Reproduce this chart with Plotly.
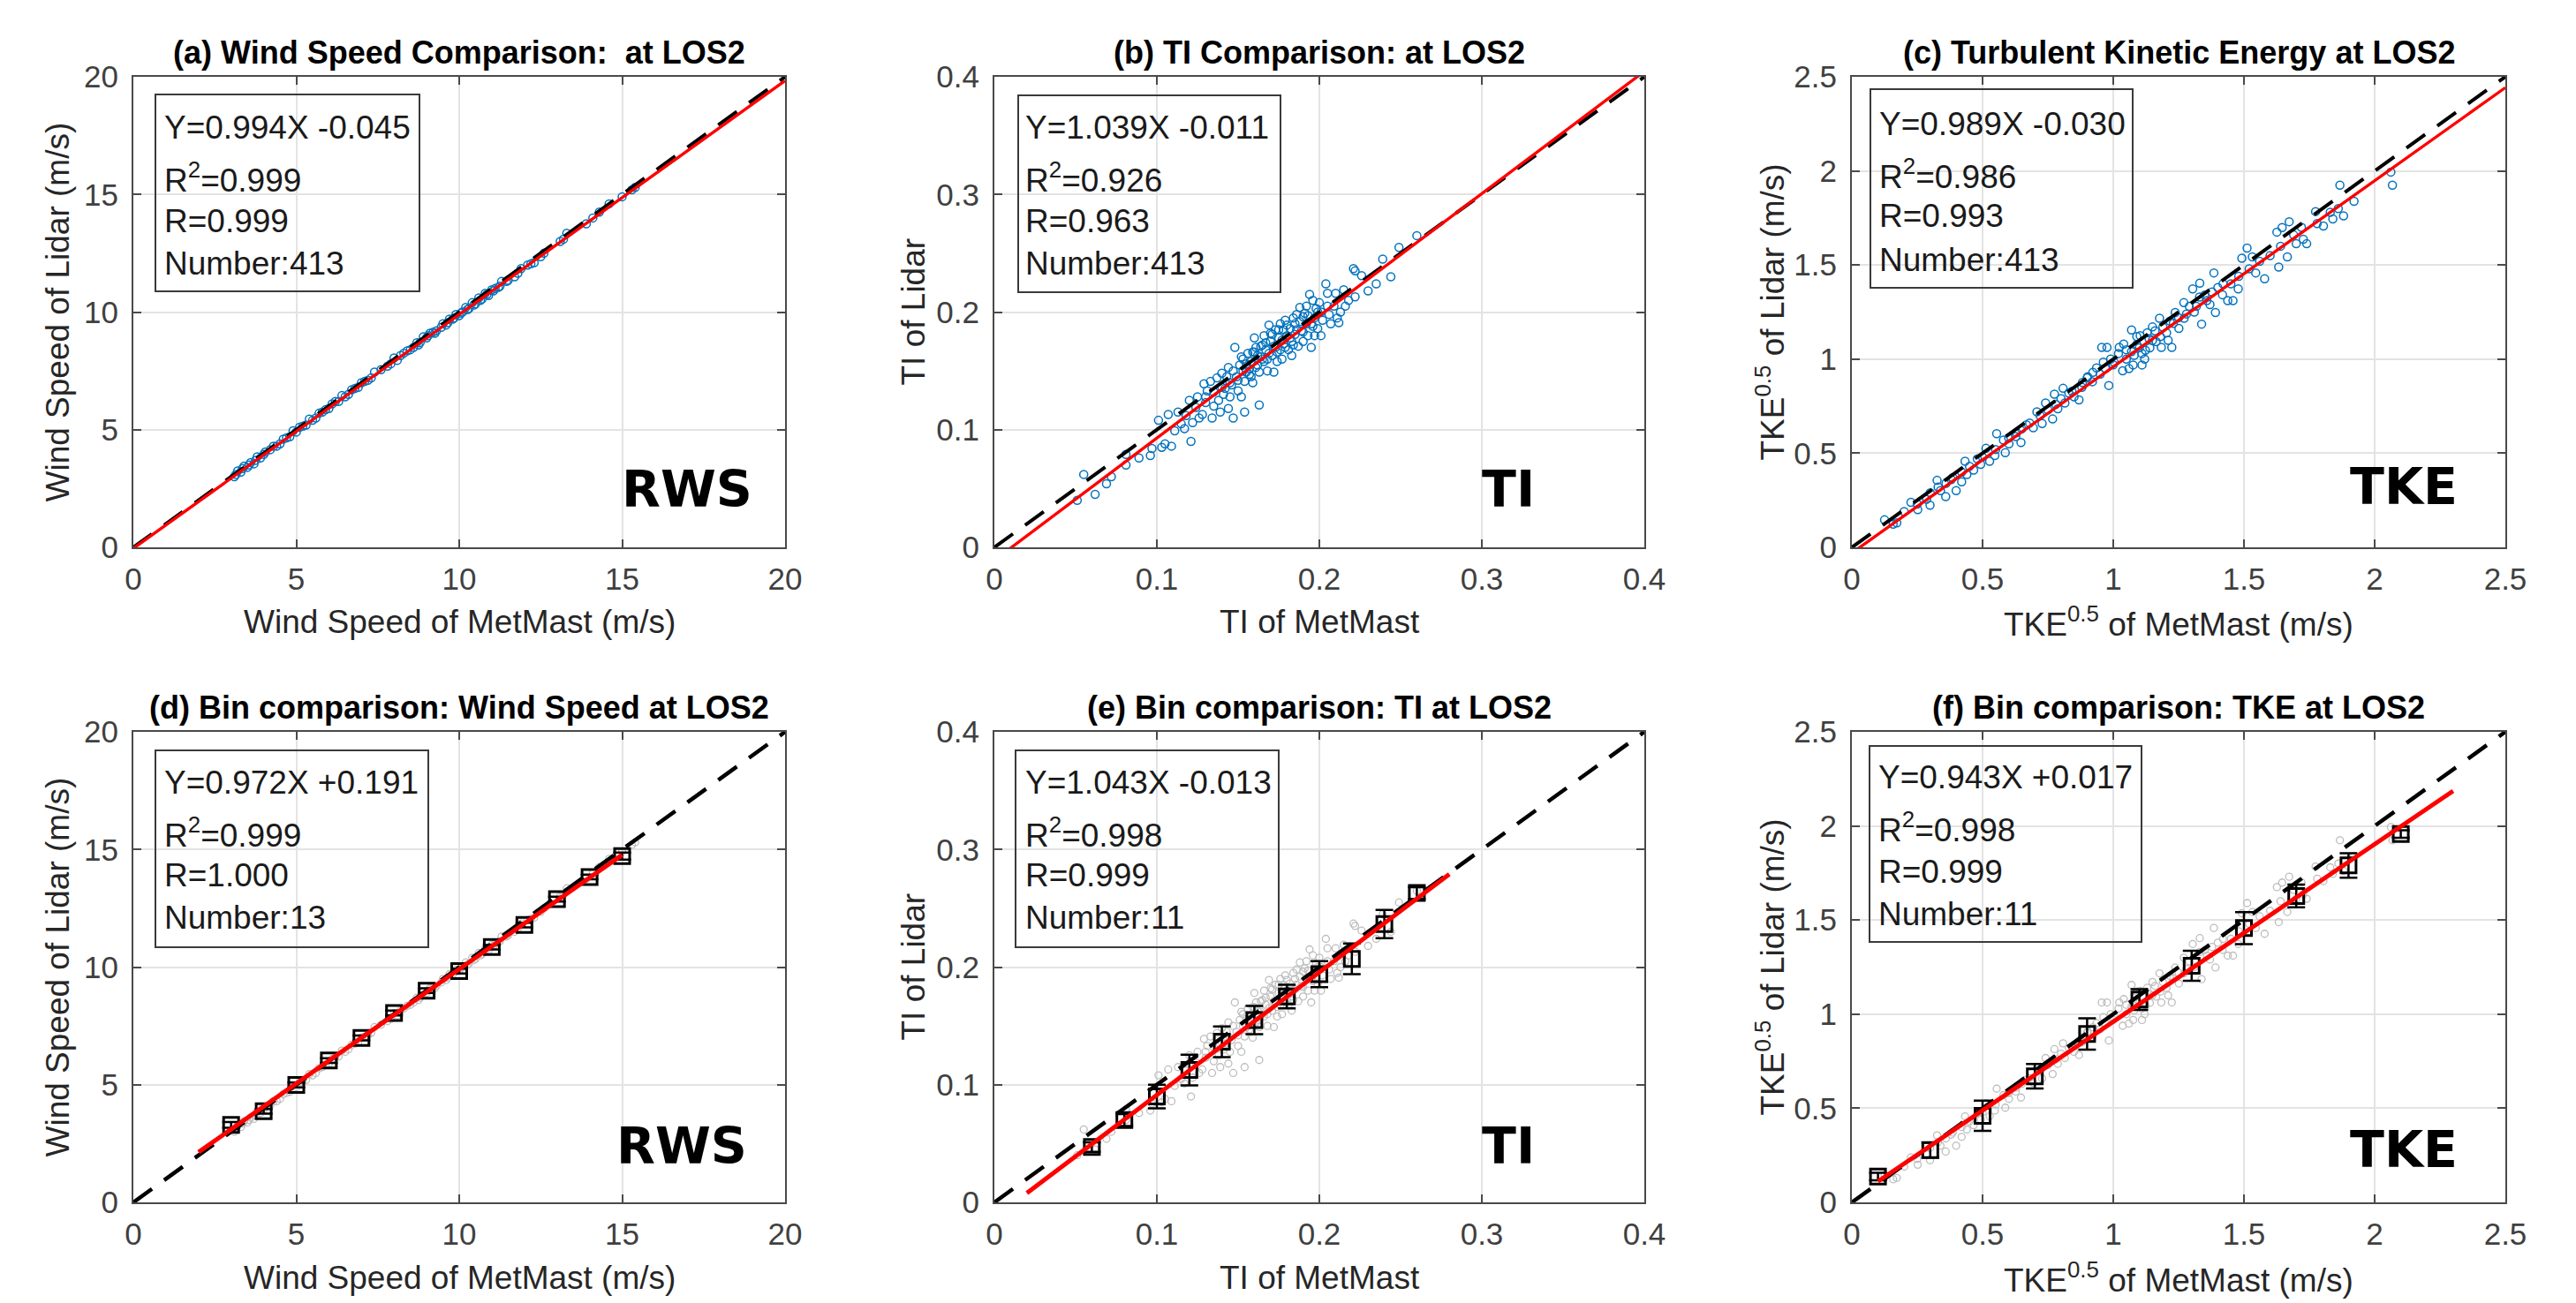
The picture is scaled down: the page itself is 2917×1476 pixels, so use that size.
import plotly.graph_objects as go

# ---------------- data ----------------
ws_met = [3.1, 3.2, 3.3, 3.4, 3.5, 3.6, 3.7, 3.8, 3.9, 4.0,
          4.2, 4.3, 4.5, 4.6, 4.8, 4.9, 5.0, 5.1, 5.3, 5.4,
          5.6, 5.7, 5.8, 6.0, 6.1, 6.3, 6.4, 6.6, 6.7, 6.9,
          7.0, 7.1, 7.3, 7.4, 7.8, 8.0, 8.1, 8.3, 8.4, 8.6,
          8.7, 8.8, 8.9, 9.0, 9.1, 9.2, 9.3, 9.5, 9.6, 9.7,
          9.8, 9.9, 10.0, 10.1, 10.2, 10.3, 10.4, 10.5, 10.6, 10.7,
          10.8, 10.9, 11.0, 11.1, 11.2, 11.3, 11.5, 11.7, 11.9, 12.1,
          12.3, 12.5, 13.1, 13.3, 13.9, 14.1, 14.6, 15.0, 15.3,
          3.15, 3.35, 3.55, 3.75, 4.05, 4.4, 4.7, 5.2, 5.5, 5.9,
          6.2, 6.5, 6.8, 7.2, 7.6, 7.9, 8.2, 8.5, 8.75, 9.05,
          9.25, 9.45, 9.65, 9.85, 10.05, 10.25, 10.45, 10.65, 10.85, 11.05,
          11.25, 11.45, 11.8, 12.2, 12.6, 13.2, 14.3, 15.4]
ws_lid = [3.0, 3.25, 3.2, 3.45, 3.4, 3.6, 3.55, 3.85, 3.8, 3.95,
          4.15, 4.3, 4.4, 4.6, 4.7, 4.95, 4.9, 5.1, 5.2, 5.45,
          5.5, 5.7, 5.75, 5.9, 6.1, 6.2, 6.45, 6.5, 6.7, 6.8,
          7.0, 7.05, 7.2, 7.45, 7.7, 8.05, 7.95, 8.25, 8.35, 8.5,
          8.7, 8.7, 8.95, 8.9, 9.1, 9.15, 9.2, 9.5, 9.45, 9.7,
          9.7, 9.9, 9.85, 10.0, 10.2, 10.15, 10.4, 10.35, 10.6, 10.55,
          10.8, 10.7, 10.95, 11.0, 11.05, 11.3, 11.35, 11.5, 11.85, 12.0,
          12.1, 12.35, 13.0, 13.35, 13.75, 14.0, 14.6, 14.9, 15.2,
          3.1, 3.35, 3.5, 3.7, 4.05, 4.3, 4.65, 5.15, 5.4, 5.85,
          6.2, 6.4, 6.75, 7.1, 7.55, 7.8, 8.15, 8.4, 8.6, 9.0,
          9.1, 9.35, 9.55, 9.75, 9.95, 10.1, 10.3, 10.5, 10.75, 10.9,
          11.1, 11.3, 11.65, 12.05, 12.5, 13.1, 14.25, 15.3]

ti_met = [0.055, 0.051, 0.062, 0.069, 0.072, 0.081, 0.081, 0.089, 0.096, 0.097,
          0.101, 0.103, 0.105, 0.107, 0.109, 0.111, 0.115, 0.117, 0.120, 0.121,
          0.122, 0.124, 0.126, 0.128, 0.129, 0.130, 0.131, 0.133, 0.134, 0.135,
          0.137, 0.138, 0.139, 0.141, 0.142, 0.144, 0.144, 0.145, 0.147, 0.148,
          0.149, 0.150, 0.151, 0.152, 0.153, 0.153, 0.154, 0.154, 0.155, 0.156,
          0.158, 0.159, 0.160, 0.161, 0.162, 0.163, 0.163, 0.164, 0.165, 0.166,
          0.167, 0.168, 0.169, 0.170, 0.171, 0.172, 0.173, 0.173, 0.174, 0.175,
          0.176, 0.177, 0.178, 0.179, 0.180, 0.181, 0.182, 0.183, 0.183, 0.184,
          0.185, 0.186, 0.187, 0.188, 0.189, 0.190, 0.191, 0.192, 0.192, 0.193,
          0.194, 0.195, 0.196, 0.197, 0.198, 0.199, 0.200, 0.201, 0.201, 0.204,
          0.205, 0.206, 0.209, 0.210, 0.211, 0.212, 0.213, 0.215, 0.216, 0.218,
          0.221, 0.222, 0.222, 0.226, 0.230, 0.235, 0.239, 0.244, 0.249, 0.260,
          0.140, 0.146, 0.157, 0.165, 0.171, 0.176, 0.185, 0.190, 0.196, 0.160,
          0.168, 0.178,
          0.130, 0.135, 0.140, 0.143, 0.147, 0.150, 0.152, 0.155, 0.157, 0.159,
          0.161, 0.162, 0.164, 0.166, 0.167, 0.169, 0.170, 0.172, 0.174, 0.175,
          0.177, 0.179, 0.180, 0.182, 0.184, 0.186, 0.188, 0.190, 0.193, 0.195,
          0.197, 0.199, 0.202, 0.205, 0.207, 0.125, 0.118, 0.113, 0.145, 0.158]
ti_lid = [0.062, 0.040, 0.045, 0.054, 0.060, 0.079, 0.070, 0.076, 0.078, 0.084,
          0.108, 0.085, 0.088, 0.113, 0.086, 0.099, 0.105, 0.101, 0.125, 0.090,
          0.106, 0.119, 0.110, 0.113, 0.139, 0.123, 0.133, 0.141, 0.110, 0.120,
          0.144, 0.125, 0.115, 0.130, 0.135, 0.153, 0.118, 0.140, 0.110, 0.170,
          0.145, 0.133, 0.155, 0.128, 0.150, 0.160, 0.115, 0.141, 0.149, 0.165,
          0.158, 0.140, 0.178, 0.153, 0.163, 0.121, 0.149, 0.171, 0.160, 0.180,
          0.168, 0.150, 0.189, 0.175, 0.163, 0.149, 0.185, 0.170, 0.158, 0.178,
          0.190, 0.160, 0.173, 0.193, 0.180, 0.168, 0.186, 0.175, 0.163, 0.195,
          0.181, 0.198, 0.171, 0.204, 0.184, 0.175, 0.199, 0.190, 0.205, 0.180,
          0.215, 0.170, 0.210, 0.195, 0.203, 0.186, 0.208, 0.180, 0.200, 0.224,
          0.216, 0.198, 0.205, 0.216, 0.195, 0.191, 0.200, 0.219, 0.205, 0.210,
          0.237, 0.235, 0.213, 0.231, 0.218, 0.224, 0.245, 0.230, 0.255, 0.265,
          0.148, 0.138, 0.147, 0.172, 0.181, 0.168, 0.190, 0.196, 0.188, 0.166,
          0.160, 0.185,
          0.128, 0.132, 0.136, 0.145, 0.150, 0.142, 0.162, 0.156, 0.152, 0.166,
          0.170, 0.155, 0.162, 0.158, 0.174, 0.165, 0.182, 0.171, 0.166, 0.185,
          0.176, 0.170, 0.189, 0.178, 0.172, 0.185, 0.192, 0.183, 0.197, 0.190,
          0.180, 0.200, 0.193, 0.205, 0.190, 0.128, 0.112, 0.115, 0.128, 0.145]

tke_met = [0.125, 0.158, 0.172, 0.226, 0.252, 0.286, 0.299, 0.326, 0.339, 0.359,
           0.386, 0.399, 0.420, 0.433, 0.440, 0.466, 0.493, 0.513, 0.527, 0.547,
           0.554, 0.587, 0.601, 0.627, 0.647, 0.668, 0.694, 0.708, 0.728, 0.741,
           0.768, 0.775, 0.788, 0.808, 0.815, 0.842, 0.869, 0.882, 0.902, 0.922,
           0.936, 0.956, 0.962, 0.976, 0.983, 1.003, 1.023, 1.036, 1.050, 1.070,
           1.076, 1.090, 1.103, 1.110, 1.123, 1.137, 1.150, 1.164, 1.177, 1.184,
           1.204, 1.217, 1.224, 1.237, 1.251, 1.271, 1.291, 1.304, 1.318, 1.331,
           1.338, 1.358, 1.378, 1.385, 1.391, 1.418, 1.438, 1.458, 1.478, 1.492,
           1.512, 1.532, 1.545, 1.579, 1.626, 1.633, 1.646, 1.666, 1.673, 1.700,
           1.727, 1.740, 1.774, 1.804, 1.840, 1.861, 1.867, 1.881, 1.921, 2.062,
           2.068,
           1.05, 1.08, 1.10, 1.12, 1.15, 1.06, 0.99, 1.02, 1.13, 1.18,
           1.25, 1.27, 0.92, 0.95, 0.85, 0.60, 0.65, 0.72, 0.80, 1.40,
           1.45, 1.35, 0.45, 0.50, 0.38, 0.30,
           0.20, 0.25, 0.33, 0.36, 0.42, 0.48, 0.55, 0.58, 0.63, 0.68,
           0.75, 0.78, 0.83, 0.88, 0.90, 0.97, 1.00, 1.04, 1.07, 1.09,
           1.11, 1.14, 1.16, 1.19, 1.21, 1.23, 1.28, 1.31, 1.33, 1.37,
           1.42, 1.48, 1.52, 1.56, 1.60, 1.64, 1.69, 1.72, 1.78, 1.83]
tke_lid = [0.146, 0.123, 0.130, 0.239, 0.200, 0.255, 0.224, 0.356, 0.301, 0.270,
           0.371, 0.301, 0.348, 0.457, 0.387, 0.410, 0.441, 0.526, 0.457, 0.488,
           0.604, 0.503, 0.550, 0.589, 0.557, 0.651, 0.635, 0.720, 0.658, 0.767,
           0.682, 0.814, 0.736, 0.845, 0.767, 0.829, 0.783, 0.876, 0.907, 0.930,
           0.953, 1.062, 0.984, 1.062, 0.860, 0.984, 1.062, 0.938, 1.000, 1.155,
           0.969, 1.078, 1.124, 0.969, 1.047, 1.109, 1.171, 1.093, 1.217, 1.062,
           1.140, 1.202, 1.062, 1.248, 1.163, 1.217, 1.280, 1.373, 1.280, 1.404,
           1.186, 1.311, 1.357, 1.458, 1.248, 1.342, 1.311, 1.311, 1.373, 1.536,
           1.590, 1.543, 1.458, 1.427, 1.675, 1.489, 1.699, 1.543, 1.730, 1.613,
           1.637, 1.613, 1.784, 1.707, 1.745, 1.800, 1.924, 1.761, 1.839, 1.994,
           1.924,
           1.05, 1.02, 1.06, 1.00, 1.10, 0.95, 1.00, 1.03, 1.14, 1.12,
           1.22, 1.30, 0.88, 0.92, 0.80, 0.58, 0.63, 0.70, 0.79, 1.38,
           1.40, 1.34, 0.43, 0.48, 0.36, 0.29,
           0.19, 0.23, 0.32, 0.34, 0.40, 0.47, 0.52, 0.57, 0.61, 0.66,
           0.73, 0.76, 0.82, 0.85, 0.90, 0.95, 0.97, 1.08, 1.04, 1.12,
           1.03, 1.06, 1.15, 1.17, 1.10, 1.19, 1.24, 1.25, 1.33, 1.29,
           1.40, 1.44, 1.48, 1.52, 1.55, 1.60, 1.66, 1.70, 1.72, 1.78]

# bin-averaged values (bottom row)
bin_ws_x = [3, 4, 5, 6, 7, 8, 9, 10, 11, 12, 13, 14, 15]
bin_ws_y = [3.29, 3.87, 4.99, 6.03, 6.99, 8.05, 9.00, 9.83, 10.85, 11.79, 12.89, 13.83, 14.72]
bin_ws_err = [0.12, 0.10, 0.10, 0.10, 0.10, 0.10, 0.10, 0.10, 0.10, 0.10, 0.10, 0.10, 0.15]

bin_ti_x = [0.06, 0.08, 0.10, 0.12, 0.14, 0.16, 0.18, 0.20, 0.22, 0.24, 0.26]
bin_ti_y = [0.047, 0.070, 0.090, 0.1125, 0.1365, 0.155, 0.175, 0.194, 0.207, 0.2365, 0.263]
bin_ti_err = [0.004, 0.005, 0.010, 0.013, 0.013, 0.012, 0.010, 0.011, 0.013, 0.012, 0.005]

bin_tke_x = [0.1, 0.3, 0.5, 0.7, 0.9, 1.1, 1.3, 1.5, 1.7, 1.9, 2.1]
bin_tke_y = [0.137, 0.278, 0.46, 0.67, 0.895, 1.078, 1.257, 1.457, 1.628, 1.79, 1.957]
bin_tke_err = [0.02, 0.04, 0.08, 0.065, 0.083, 0.055, 0.08, 0.085, 0.06, 0.065, 0.02]

# regression results per panel (a..f)
fit_slope = [0.994, 1.039, 0.989, 0.972, 1.043, 0.943]
fit_icpt = [-0.045, -0.011, -0.030, 0.191, -0.013, 0.017]
fit_xmin = [0, 0, 0, 2, 0.02, 0.1]
fit_xmax = [20, 0.4, 2.5, 15, 0.28, 2.3]
r2_vals = ["0.999", "0.926", "0.986", "0.999", "0.998", "0.998"]
r_vals = ["0.999", "0.963", "0.993", "1.000", "0.999", "0.999"]
n_vals = [413, 413, 413, 13, 11, 11]

titles = ["(a) Wind Speed Comparison:  at LOS2",
          "(b) TI Comparison: at LOS2",
          "(c) Turbulent Kinetic Energy at LOS2",
          "(d) Bin comparison: Wind Speed at LOS2",
          "(e) Bin comparison: TI at LOS2",
          "(f) Bin comparison: TKE at LOS2"]
xlabels = ["Wind Speed of MetMast (m/s)", "TI of MetMast", "TKE<sup>0.5</sup> of MetMast (m/s)"] * 2
ylabels = ["Wind Speed of Lidar (m/s)", "TI of Lidar", "TKE<sup>0.5</sup> of Lidar (m/s)"] * 2
tags = ["RWS", "TI", "TKE"] * 2

ticks_ws = [0, 5, 10, 15, 20]
ticks_ti = [0, 0.1, 0.2, 0.3, 0.4]
ticks_tke = [0, 0.5, 1, 1.5, 2, 2.5]
tick_sets = [ticks_ws, ticks_ti, ticks_tke] * 2
tick_text = [["0", "5", "10", "15", "20"],
             ["0", "0.1", "0.2", "0.3", "0.4"],
             ["0", "0.5", "1", "1.5", "2", "2.5"]] * 2
axis_max = [20, 0.4, 2.5] * 2

raw_x = [ws_met, ti_met, tke_met]
raw_y = [ws_lid, ti_lid, tke_lid]
bin_x = [bin_ws_x, bin_ti_x, bin_tke_x]
bin_y = [bin_ws_y, bin_ti_y, bin_tke_y]
bin_err = [bin_ws_err, bin_ti_err, bin_tke_err]

# ---------------- layout geometry (pixels) ----------------
W, H = 2917, 1476
PAGE_OFF = 8  # default page body margin shifts the whole figure
plot_px_ref = [(151, 889, 87, 620), (1126, 1862, 87, 620), (2097, 2837, 87, 620),
               (151, 889, 829, 1362), (1126, 1862, 829, 1362), (2097, 2837, 829, 1362)]
plot_px = [(a - PAGE_OFF, b - PAGE_OFF, c - PAGE_OFF, d - PAGE_OFF) for a, b, c, d in plot_px_ref]
# stats box: left, right, top, bottom offsets (px from plot left / top)
box_px = [(25, 324, 20, 243), (27, 324, 21, 244), (21, 318, 14, 239),
          (25, 334, 21, 244), (24, 322, 21, 244), (20, 328, 16, 238)]
text_left_px = [34, 34, 30, 34, 34, 29]
text_line_px = [(58, 114, 164, 211), (58, 114, 164, 211), (53, 110, 158, 207),
                (57, 114, 162, 210), (57, 114, 162, 210), (51, 108, 158, 206)]
tag_pos = [(0.850, 0.124), (0.791, 0.124), (0.845, 0.130),
           (0.842, 0.120), (0.791, 0.120), (0.845, 0.113)]
ylabel_off_px = [-86, -92, -92, -86, -92, -92]

FONT = "Liberation Sans, Arial, Helvetica, sans-serif"
TXT = "#262626"
AXC = "#4a4a4a"
BLUE = "#0072BD"
GREY = "#BDBDBD"

fig = go.Figure()
annotations = []
shapes = []
layout_axes = {}

for i in range(6):
    sfx = "" if i == 0 else str(i + 1)
    xa, ya = "x" + sfx, "y" + sfx
    k = i % 3
    x0, x1, y0, y1 = plot_px[i]
    pw, ph = x1 - x0, y1 - y0
    m = axis_max[i]

    if i < 3:
        fig.add_trace(go.Scatter(x=raw_x[k], y=raw_y[k], mode="markers", xaxis=xa, yaxis=ya,
                                 marker=dict(symbol="circle-open", size=9, color=BLUE,
                                             line=dict(width=1.5)),
                                 showlegend=False, hoverinfo="skip"))
        fig.add_trace(go.Scatter(x=[0, m], y=[0, m], mode="lines", xaxis=xa, yaxis=ya,
                                 line=dict(color="black", width=4, dash="26px,17px"),
                                 showlegend=False, hoverinfo="skip"))
        lw = 3.4
    else:
        fig.add_trace(go.Scatter(x=raw_x[k], y=raw_y[k], mode="markers", xaxis=xa, yaxis=ya,
                                 marker=dict(symbol="circle-open", size=8, color=GREY,
                                             line=dict(width=1.3)),
                                 showlegend=False, hoverinfo="skip"))
        fig.add_trace(go.Scatter(x=bin_x[k], y=bin_y[k], mode="markers", xaxis=xa, yaxis=ya,
                                 marker=dict(symbol="square-open", size=17, color="black",
                                             line=dict(width=3)),
                                 error_y=dict(type="data", array=bin_err[k], visible=True,
                                              color="black", thickness=2.5, width=10),
                                 showlegend=False, hoverinfo="skip"))
        fig.add_trace(go.Scatter(x=[0, m], y=[0, m], mode="lines", xaxis=xa, yaxis=ya,
                                 line=dict(color="black", width=4.5, dash="26px,17px"),
                                 showlegend=False, hoverinfo="skip"))
        lw = 5
    fx = [fit_xmin[i], fit_xmax[i]]
    fy = [fit_slope[i] * v + fit_icpt[i] for v in fx]
    fig.add_trace(go.Scatter(x=fx, y=fy, mode="lines", xaxis=xa, yaxis=ya,
                             line=dict(color="#FF0000", width=lw),
                             showlegend=False, hoverinfo="skip"))

    common = dict(range=[0, m], tickvals=tick_sets[i], ticktext=tick_text[i],
                  showgrid=True, gridcolor="#E3E3E3", gridwidth=1.5, zeroline=False,
                  showline=True, linecolor=AXC, linewidth=2, mirror="ticks",
                  ticks="inside", ticklen=9, tickwidth=2, tickcolor=AXC,
                  tickfont=dict(family=FONT, size=35, color="#404040"),
                  automargin=False, fixedrange=True)
    layout_axes["xaxis" + sfx] = dict(common, domain=[x0 / W, x1 / W], anchor=ya,
                                      ticklabelstandoff=4)
    layout_axes["yaxis" + sfx] = dict(common, domain=[1 - y1 / H, 1 - y0 / H], anchor=xa,
                                      ticklabelstandoff=8)

    dx, dy = xa + " domain", ya + " domain"
    # title
    annotations.append(dict(text="<b>" + titles[i] + "</b>", xref=dx, yref=dy, x=0.5,
                            y=1 + 28 / ph, xanchor="center", yanchor="middle", showarrow=False,
                            font=dict(family=FONT, size=36, color="black")))
    # axis labels
    annotations.append(dict(text=xlabels[i], xref=dx, yref=dy, x=0.5, y=-85 / ph,
                            xanchor="center", yanchor="middle", showarrow=False,
                            font=dict(family=FONT, size=37, color=TXT)))
    annotations.append(dict(text=ylabels[i], xref=dx, yref=dy, x=ylabel_off_px[i] / pw, y=0.5,
                            xanchor="center", yanchor="middle", textangle=-90, showarrow=False,
                            font=dict(family=FONT, size=37, color=TXT)))
    # stats box
    bl, br, bt, bb = box_px[i]
    shapes.append(dict(type="rect", xref=dx, yref=dy, x0=bl / pw, x1=br / pw,
                       y0=1 - bb / ph, y1=1 - bt / ph,
                       line=dict(color="#3a3a3a", width=2), fillcolor="rgba(0,0,0,0)"))
    lines = ["Y=%.3fX %+.3f" % (fit_slope[i], fit_icpt[i]),
             "R<sup>2</sup>=" + r2_vals[i],
             "R=" + r_vals[i],
             "Number:%d" % n_vals[i]]
    for t, off in zip(lines, text_line_px[i]):
        annotations.append(dict(text=t, xref=dx, yref=dy, x=text_left_px[i] / pw,
                                y=1 - off / ph, xanchor="left", yanchor="middle",
                                showarrow=False, borderpad=0,
                                font=dict(family=FONT, size=37, color="#1a1a1a")))
    # big tag
    tx, ty = tag_pos[i]
    annotations.append(dict(text=tags[i], xref=dx, yref=dy, x=tx, y=ty,
                            xanchor="center", yanchor="middle", showarrow=False,
                            font=dict(family="DejaVu Sans, sans-serif", size=57,
                                      color="black", weight=700)))

fig.update_layout(template="none", width=W, height=H,
                  margin=dict(l=0, r=0, t=0, b=0, autoexpand=False),
                  paper_bgcolor="white", plot_bgcolor="white",
                  annotations=annotations, shapes=shapes, **layout_axes)

fig.write_html("out.html")
